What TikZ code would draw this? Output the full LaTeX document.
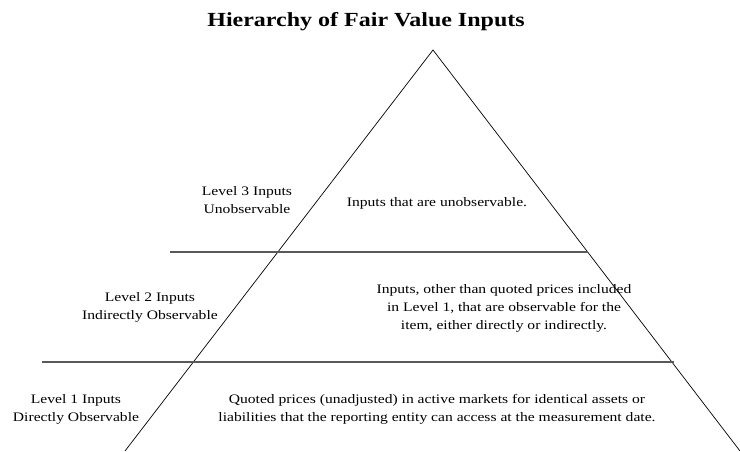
\documentclass[tikz,border=0pt]{standalone}
\usepackage{fontspec}
\setmainfont{Liberation Serif}
\newcommand{\widetext}[1]{\scalebox{1.2}[1]{\begin{tabular}{@{}c@{}}#1\end{tabular}}}
\begin{document}
\begin{tikzpicture}[x=1pt,y=-1pt,
  lbl/.style={font=\fontsize{13}{18}\selectfont,inner sep=0pt},
  side/.style={draw=black,line width=0.7pt},
  tier/.style={draw=black!65,line width=1.3pt}]
\useasboundingbox (0,0) rectangle (740,452);
\coordinate (apex) at (433,50);
\coordinate (bl) at (125,451);
\coordinate (br) at (740,451);
\coordinate (t1l) at (170,252);
\coordinate (t1r) at (588,252);
\coordinate (t2l) at (42,362);
\coordinate (t2r) at (674,362);
\draw[side] (bl) -- (apex) -- (br);
\draw[tier] (t1l) -- (t1r);
\draw[tier] (t2l) -- (t2r);
\node[font=\fontsize{20}{24}\selectfont\bfseries,inner sep=0pt] (title) at (366,22) {\scalebox{1.2}[1]{Hierarchy of Fair Value Inputs}};
\node[lbl] (l3) at (247,201) {\widetext{Level 3 Inputs\\Unobservable}};
\node[lbl] (d3) at (437,203) {\widetext{Inputs that are unobservable.}};
\node[lbl] (l2) at (150,307) {\widetext{Level 2 Inputs\\Indirectly Observable}};
\node[lbl] (d2) at (504,308) {\widetext{Inputs, other than quoted prices included\\in Level 1, that are observable for the\\item, either directly or indirectly.}};
\node[lbl] (l1) at (76,409) {\widetext{Level 1 Inputs\\Directly Observable}};
\node[lbl] (d1) at (437,409) {\widetext{Quoted prices (unadjusted) in active markets for identical assets or\\liabilities that the reporting entity can access at the measurement date.}};
\end{tikzpicture}
\end{document}
